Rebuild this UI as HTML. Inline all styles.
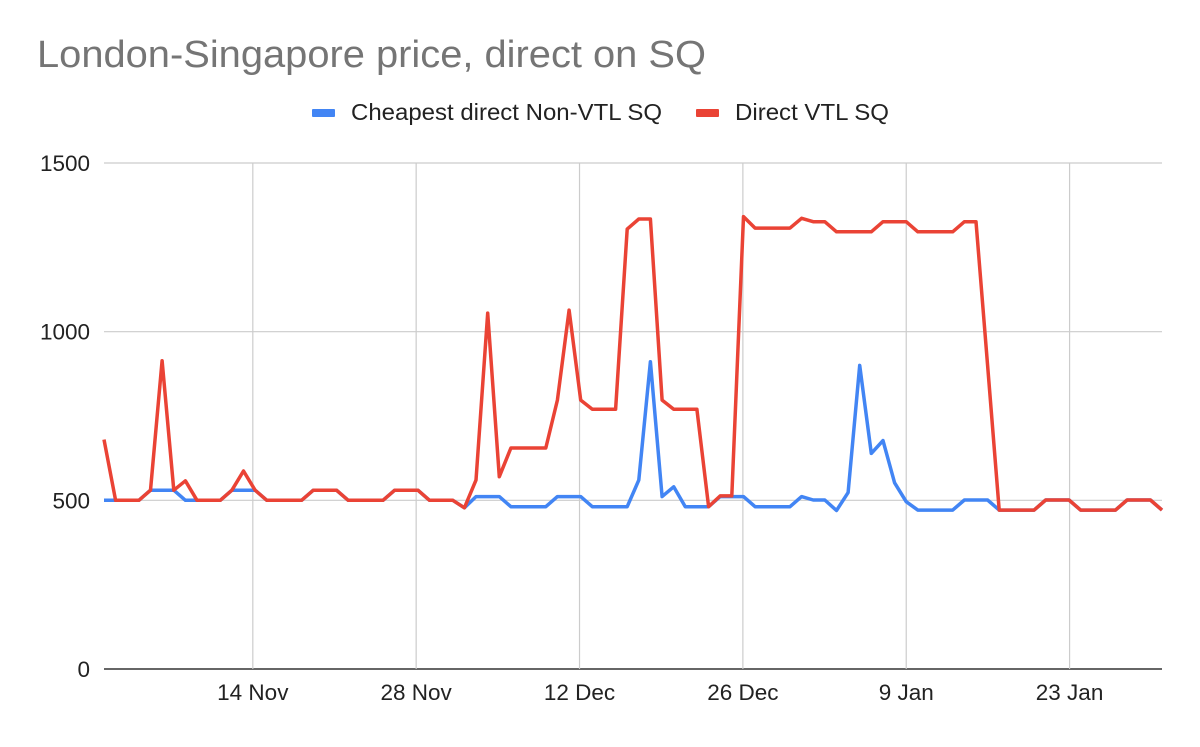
<!DOCTYPE html>
<html><head><meta charset="utf-8"><style>
body{margin:0;background:#fff;}
svg text{font-family:"Liberation Sans",Arial,sans-serif;}
</style></head><body>
<svg id="chart" width="1200" height="742" viewBox="0 0 1200 742" xmlns="http://www.w3.org/2000/svg">
<rect width="1200" height="742" fill="#fff"/>
<text x="37" y="67" font-size="38" textLength="669" lengthAdjust="spacingAndGlyphs" fill="#757575">London-Singapore price, direct on SQ</text>
<g>
<rect x="312" y="109" width="23" height="8" rx="1" fill="#4285f4"/>
<text x="351" y="120" font-size="23" textLength="311" lengthAdjust="spacingAndGlyphs" fill="#222">Cheapest direct Non-VTL SQ</text>
<rect x="696" y="109" width="23" height="8" rx="1" fill="#ea4335"/>
<text x="735" y="120" font-size="23" textLength="154" lengthAdjust="spacingAndGlyphs" fill="#222">Direct VTL SQ</text>
</g>
<g id="grid"></g>
<g id="series"></g>
<g id="labels"></g>
</svg>
<script>
const yTicks=[0,500,1000,1500];
const xTickLabels=["14 Nov","28 Nov","12 Dec","26 Dec","9 Jan","23 Jan"];
const xTickIndex=[12.8,26.85,40.9,54.95,69,83.05];
const nonVtl=[500,500,500,500,530,530,530,500,500,500,500,530,530,530,500,500,500,500,530,530,530,500,500,500,500,530,530,530,500,500,500,478,511,511,511,481,481,481,481,511,511,511,481,481,481,481,560,911,511,540,481,481,481,511,511,511,481,481,481,481,511,501,501,470,523,900,639,677,552,496,471,471,471,471,501,501,501,471,471,471,471,501,501,501,471,471,471,471,501,501,501,471];
const vtl=[680,500,500,500,530,914,530,558,500,500,500,530,587,530,500,500,500,500,530,530,530,500,500,500,500,530,530,530,500,500,500,478,560,1055,570,655,655,655,655,797,1064,797,770,770,770,1304,1334,1334,797,770,770,770,481,513,513,1341,1307,1307,1307,1307,1336,1326,1326,1296,1296,1296,1296,1326,1326,1326,1296,1296,1296,1296,1326,1326,900,471,471,471,471,501,501,501,471,471,471,471,501,501,501,471];
const X0=104,X1=1162,Y0=669,Y1=163,YMAX=1500;
const N=nonVtl.length-1;
function xs(i){return X0+(X1-X0)*i/N;}
function ys(v){return Y0-(Y0-Y1)*v/YMAX;}
const NS="http://www.w3.org/2000/svg";
const grid=document.getElementById('grid'),labels=document.getElementById('labels'),series=document.getElementById('series');
function mk(tag,attrs,parent){const e=document.createElementNS(NS,tag);for(const k in attrs)e.setAttribute(k,attrs[k]);parent.appendChild(e);return e;}
yTicks.forEach(v=>{
 const l=mk('line',{x1:X0,x2:X1,y1:ys(v),y2:ys(v),stroke:v===0?'#333':'#ccc','stroke-width':v===0?1.5:1.2},grid);
 
 
 const t=mk('text',{x:90,y:ys(v)+8,'font-size':22.5,fill:'#222','text-anchor':'end'},labels);
 t.textContent=v;
 
 
});
xTickIndex.forEach((idx,k)=>{
 const x=xs(idx);
 const l=mk('line',{x1:x,x2:x,y1:Y1,y2:Y0,stroke:'#ccc','stroke-width':1.2},grid);
 
 
 const t=mk('text',{x:x,y:700,'font-size':22.5,fill:'#222','text-anchor':'middle'},labels);
 t.textContent=xTickLabels[k];
 
 
});
function line(data,color,name){
 const p=mk('polyline',{points:data.map((v,i)=>xs(i).toFixed(1)+','+ys(v).toFixed(1)).join(' '),fill:'none',stroke:color,'stroke-width':3.5,'stroke-linejoin':'round'},series);
 
 
}
line(nonVtl,'#4285f4','series-non-vtl');
line(vtl,'#ea4335','series-vtl');
</script>
</body></html>
